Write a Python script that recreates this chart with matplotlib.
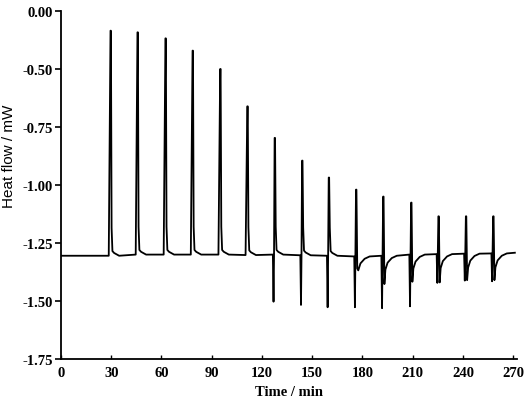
import numpy as np
import matplotlib
matplotlib.use("Agg")
import matplotlib.pyplot as plt

# injection times (min) and readings (mW)
inj_time = [29.7, 45.8, 62.5, 78.7, 95.2, 111.4, 127.7, 144.1, 160.0,
            176.3, 192.5, 209.2, 225.5, 241.9, 258.2]
peak_top = [-0.335, -0.342, -0.368, -0.421, -0.500, -0.661, -0.797, -0.895,
            -0.968, -1.020, -1.050, -1.076, -1.135, -1.135, -1.135]
spike_low = [None, None, None, None, None, None, -1.503, -1.517, -1.527,
             -1.527, -1.531, -1.523, -1.422, -1.412, -1.415]
undershoot = [None, None, None, None, None, None, None, None, None,
              -1.360, -1.427, -1.417, -1.420, -1.410, -1.410]
baseline = [-1.305, -1.300, -1.300, -1.300, -1.300, -1.302, -1.300, -1.303,
            -1.305, -1.308, -1.305, -1.300, -1.298, -1.296, -1.295]
end_time = 271
end_level = -1.292

ytick_vals = [-0.25, -0.50, -0.75, -1.00, -1.25, -1.50, -1.75]
ytick_labels = ["0.00", "-0.50", "-0.75", "-1.00", "-1.25", "-1.50", "-1.75"]
xtick_vals = [0, 30, 60, 90, 120, 150, 180, 210, 240, 270]

# build the trace from the key points of each injection
t = [0.0]
y = [baseline[0]]
for i in range(len(inj_time)):
    ti = inj_time[i]
    b = baseline[i]
    t.append(ti - 1.2)
    y.append(b)
    if spike_low[i] is not None:
        t += [ti - 0.8, ti - 0.5]
        y += [spike_low[i], b]
    t += [ti - 0.15, ti + 0.1]
    y += [peak_top[i], peak_top[i]]
    if undershoot[i] is not None:
        t += [ti + 0.6, ti + 1.2, ti + 2.5, ti + 5.0, ti + 8.0]
        y += [undershoot[i], b - 0.06, b - 0.03, b - 0.01, b]
    else:
        t += [ti + 0.5, ti + 1.0, ti + 2.0, ti + 5.0]
        y += [b + 0.12, b + 0.02, b + 0.012, b]
t.append(end_time)
y.append(end_level)

fig = plt.figure(figsize=(5.26, 4.02), dpi=100)
ax = fig.add_axes([0.116, 0.1045, 0.866, 0.8657])
ax.plot(t, y, color="black", lw=1.3)

ax.set_xlim(0, 272)
ax.set_ylim(-1.75, -0.25)
ax.spines["top"].set_visible(False)
ax.spines["right"].set_visible(False)
for s in ["left", "bottom"]:
    ax.spines[s].set_linewidth(1.3)

tick_font = dict(family="Liberation Serif", weight="bold", size=10.5)
ax.set_yticks(ytick_vals)
ax.set_yticklabels(ytick_labels, **tick_font)
ax.set_xticks(xtick_vals)
ax.set_xticklabels([str(v) for v in xtick_vals], **tick_font)
ax.tick_params(axis="y", direction="out", length=4, width=1.2, pad=2)
ax.tick_params(axis="x", direction="in", length=3, width=1.0, pad=5)

ax.set_xlabel("Time / min", family="Liberation Serif", weight="bold", size=10.5)
ax.xaxis.set_label_coords(0.5, -0.075)
ax.set_ylabel("Heat flow / mW", family="Liberation Sans", size=11)
ax.yaxis.set_label_coords(-0.098, 0.585)

fig.savefig("out.png", dpi=100)
